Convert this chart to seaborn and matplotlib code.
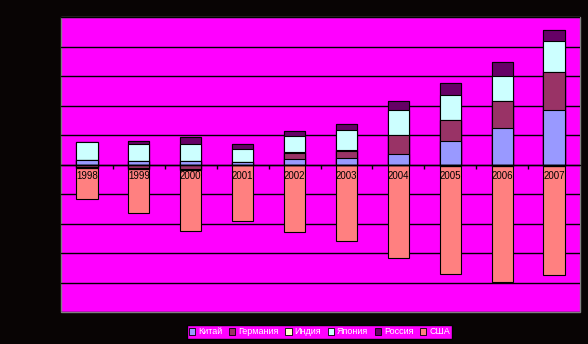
import numpy as np
import pandas as pd
import matplotlib
matplotlib.use("Agg")
import matplotlib.pyplot as plt
from matplotlib.patches import Patch
import seaborn as sns

years = ["1998", "1999", "2000", "2001", "2002", "2003", "2004", "2005", "2006", "2007"]
china = [31, 21, 21, 17, 35, 46, 69, 161, 250, 372]
germany = [-15, -26, -32, 0, 41, 46, 128, 142, 183, 252]
india = [-7, -3, -5, 1, 7, 9, 1, -10, -9, -8]
japan = [119, 115, 120, 88, 113, 136, 172, 166, 170, 210]
russia = [0, 25, 47, 34, 29, 35, 60, 84, 94, 77]
usa = [-215, -301, -417, -385, -460, -521, -631, -729, -788, -738]

series_names = ["Китай", "Германия", "Индия", "Япония", "Россия", "США"]
colors = ["#9999FF", "#993366", "#FFFFCC", "#CCFFFF", "#660066", "#FF8080"]

sns.set_theme(style="white")
plt.rcParams["font.family"] = ["Liberation Sans", "DejaVu Sans"]

fig = plt.figure(figsize=(5.88, 3.44), dpi=100, facecolor="#080404")
ax = fig.add_axes([61 / 588, 32 / 344, 519 / 588, 295 / 344])
ax.set_facecolor("#FF00FF")

values = np.array([china, germany, india, japan, russia, usa], dtype=float)
pos = np.clip(values, 0, None)
neg = np.clip(values, None, 0)
cum_pos = pos.cumsum(axis=0)
cum_neg = neg.cumsum(axis=0)

for cum in (cum_pos, cum_neg):
    for i in reversed(range(len(series_names))):
        df = pd.DataFrame({"year": years, "v": cum[i]})
        sns.barplot(data=df, x="year", y="v", color=colors[i], saturation=1,
                    width=0.41, edgecolor="black", linewidth=0.8, ax=ax,
                    errorbar=None)

ax.set_xlim(-0.5, len(years) - 0.5)
ax.set_ylim(-1000, 1000)
ax.set_yticks(np.arange(-1000, 1001, 200))
ax.set_xlabel("")
ax.set_ylabel("")

ax.yaxis.grid(True, color="black", linewidth=1)
ax.xaxis.grid(False)
ax.yaxis.set_zorder(0.5)
ax.xaxis.set_zorder(3)

for s in ("left", "top", "right"):
    ax.spines[s].set_visible(False)
ax.spines["bottom"].set_position(("data", 0))
ax.spines["bottom"].set_color("black")
ax.spines["bottom"].set_linewidth(1)
ax.spines["bottom"].set_zorder(3)
ax.patch.set_edgecolor("#808080")
ax.patch.set_linewidth(1.0)

ax.tick_params(axis="y", left=False, labelleft=False)
ax.set_xticks(np.arange(0.5, len(years) - 1, 1), minor=True)
ax.tick_params(axis="x", which="major", length=0, pad=5, labelsize=7,
               labelcolor="black", bottom=True)
ax.tick_params(axis="x", which="minor", length=3, width=1, color="black",
               direction="out", bottom=True)

handles = [Patch(facecolor=c, edgecolor="black", linewidth=0.6) for c in colors]
leg = fig.legend(handles, series_names, loc="center",
                 bbox_to_anchor=(319.5 / 588, 1 - 332 / 344), ncol=6,
                 frameon=True, facecolor="#FF00FF", edgecolor="black",
                 framealpha=1, fancybox=False, fontsize=6.5, labelcolor="white",
                 handlelength=0.7, handleheight=0.7, handletextpad=0.3,
                 columnspacing=0.75, borderpad=0.25)

fig.savefig("out.png", dpi=100, facecolor=fig.get_facecolor())
